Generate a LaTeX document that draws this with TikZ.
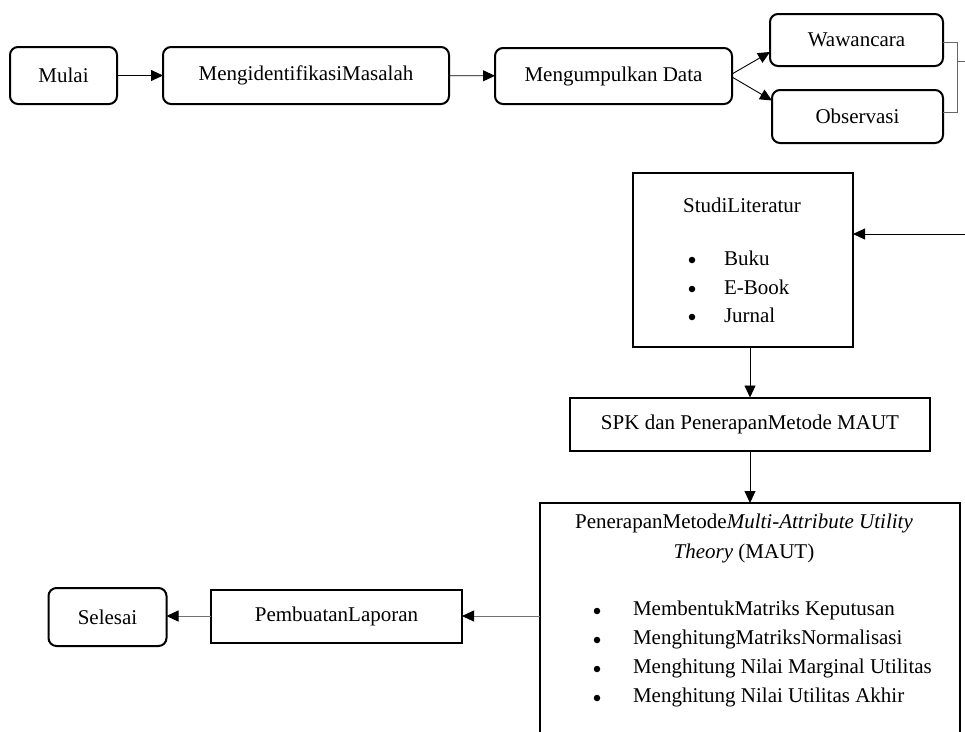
\documentclass[tikz,border=0pt]{standalone}
\usepackage{fontspec}
\setmainfont{Liberation Serif}
\usetikzlibrary{arrows.meta,calc}
\tikzset{
  x=1pt,y=-1pt,
  every node/.style={font=\fontsize{21}{28}\selectfont, inner sep=0pt, outer sep=0pt},
  rbox/.style={draw, line width=2pt, rounded corners=8pt, align=center},
  sbox/.style={draw, line width=2pt, align=center},
  txt/.style={anchor=west, text height=15pt, text depth=4pt},
  bul/.style={circle, fill=black, minimum size=6.5pt},
  conn/.style={line width=0.9pt, -{Triangle[length=12pt,width=11pt]}},
  gconn/.style={line width=0.9pt, draw=black!55, -{Triangle[length=12pt,width=11pt,color=black]}},
  brk/.style={line width=0.8pt, draw=black!60}
}
\begin{document}
\begin{tikzpicture}
\useasboundingbox (0,0) rectangle (965,731);
\clip (0,0) rectangle (965,731);
% top row
\node[rbox, minimum width=107pt, minimum height=57pt] (mulai) at (63.5,75.5) {Mulai};
\node[rbox, minimum width=286pt, minimum height=57pt] (ident) at (306,75.5) {MengidentifikasiMasalah};
\node[rbox, minimum width=237pt, minimum height=56pt] (kumpul) at (613.5,76) {Mengumpulkan Data};
\node[rbox, minimum width=173pt, minimum height=52pt] (waw) at (856.5,40) {Wawancara};
\node[rbox, minimum width=171pt, minimum height=53pt] (obs) at (857.5,116.5) {Observasi};
\draw[conn] (mulai) -- (ident);
\draw[conn] (ident) -- (kumpul);
\draw[conn] ([yshift=2pt]kumpul.east) -- ([yshift=-12pt]waw.west);
\draw[conn] ([yshift=-1pt]kumpul.east) -- ([yshift=16pt]obs.west);
% bracket
\draw[brk] ([yshift=-2pt]waw.east) -- ++(14,0) coordinate (b1) |- ([yshift=4pt]obs.east);
\coordinate (bmid) at (957,61);
\coordinate (bout) at (965,61);
\draw[brk] (bmid) -- (bout);
% studi literatur
\node[sbox, minimum width=220pt, minimum height=174pt] (studi) at (743,259.5) {};
\node (studititle) at (742,205) {StudiLiteratur};
\node[bul] (sb1) at (692,260) {};
\node[bul] (sb2) at (692,289) {};
\node[bul] (sb3) at (692,317) {};
\node[txt] (st1) at (724,260) {Buku};
\node[txt] (st2) at (724,289) {E-Book};
\node[txt] (st3) at (724,317) {Jurnal};
\coordinate (inright) at (965,234);
\draw[conn] (inright) -- (studi.east |- inright);
% SPK
\node[sbox, minimum width=360pt, minimum height=53pt] (spk) at (750,424) {SPK dan PenerapanMetode MAUT};
\draw[conn] (spk.north |- studi.south) -- (spk.north);
% MAUT
\node[sbox, minimum width=420pt, minimum height=300pt, anchor=north] (maut) at (750,503) {};
\draw[conn] (spk.south) -- (maut.north);
\node[align=center, font=\fontsize{21}{30}\selectfont] (mauttitle) at (744,538) {PenerapanMetode\textit{Multi-Attribute Utility}\\\textit{Theory} (MAUT)};
\node[bul] (mb1) at (597,611) {};
\node[bul] (mb2) at (597,640) {};
\node[bul] (mb3) at (597,669) {};
\node[bul] (mb4) at (597,698) {};
\node[txt] (mt1) at (633,610) {MembentukMatriks Keputusan};
\node[txt] (mt2) at (633,639) {MenghitungMatriksNormalisasi};
\node[txt] (mt3) at (633,668) {Menghitung Nilai Marginal Utilitas};
\node[txt] (mt4) at (633,697) {Menghitung Nilai Utilitas Akhir};
% bottom row
\node[sbox, minimum width=251pt, minimum height=53pt] (lap) at (336.5,616) {PembuatanLaporan};
\node[rbox, minimum width=118pt, minimum height=58pt] (sel) at (107.5,617) {Selesai};
\draw[gconn] (maut.west |- lap.east) -- (lap.east);
\draw[gconn] (lap.west) -- (sel.east |- lap.west);
\end{tikzpicture}
\end{document}
